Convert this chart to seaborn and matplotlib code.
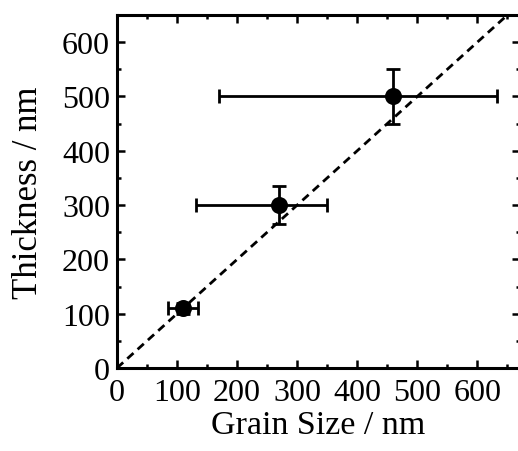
import matplotlib
matplotlib.use("Agg")
import matplotlib.pyplot as plt
from matplotlib.ticker import MultipleLocator
import seaborn as sns
import pandas as pd

# data
grain_size = [110, 270, 460]
grain_err_low = [25, 138, 290]
grain_err_high = [25, 80, 172]
thickness = [110, 300, 500]
thickness_err = [10, 35, 50]
diag = [0, 650]

df = pd.DataFrame({"grain": grain_size, "thick": thickness})

sns.set_theme(style="ticks")
plt.rcParams['font.family'] = ['Liberation Serif', 'DejaVu Serif']

fig = plt.figure(figsize=(5.18, 4.52), dpi=100)
ax = fig.add_axes([117 / 518, 83 / 452, 403 / 518, 353 / 452])

# y = x guide
ax.plot(diag, diag, ls=(0, (3, 2)), color='black', lw=2, zorder=1)

ax.errorbar(grain_size, thickness,
            xerr=[grain_err_low, grain_err_high], yerr=thickness_err,
            fmt='none', ecolor='black', elinewidth=2, capsize=5,
            capthick=2, zorder=2)
sns.scatterplot(data=df, x="grain", y="thick", ax=ax, color='black',
                s=150, edgecolor='black', linewidth=0, zorder=3, legend=False)

ax.set_xlim(0, 671)
ax.set_ylim(0, 650)
ax.xaxis.set_major_locator(MultipleLocator(100))
ax.xaxis.set_minor_locator(MultipleLocator(50))
ax.yaxis.set_major_locator(MultipleLocator(100))
ax.yaxis.set_minor_locator(MultipleLocator(50))

ax.tick_params(which='both', direction='in', top=True, right=True,
               colors='black', labelsize=23, width=1.8)
ax.tick_params(which='major', length=6, pad=5)
ax.tick_params(which='minor', length=3)
ax.tick_params(axis='x', which='major', pad=7)
for s in ax.spines.values():
    s.set_linewidth(2.2)
    s.set_color('black')

ax.set_xlabel("Grain Size / nm", fontsize=24.5, labelpad=2, color='black')
ax.set_ylabel("Thickness / nm", fontsize=25, labelpad=12, color='black')

fig.savefig("out.png", dpi=100)
